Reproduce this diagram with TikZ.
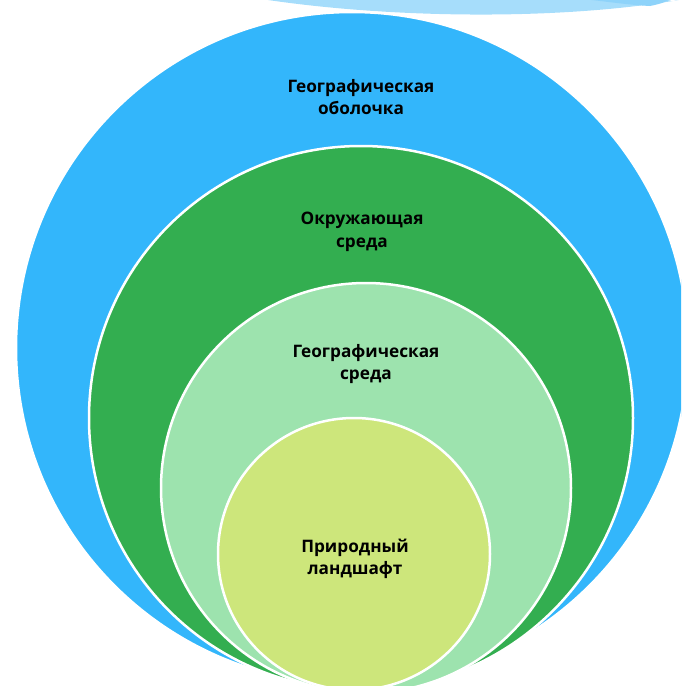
\documentclass[tikz,border=0pt]{standalone}
\usepackage{fontspec}
\setmainfont{Open Sans}
\definecolor{skyb}{HTML}{33B6FB}
\definecolor{paleb}{HTML}{A6DDFB}
\definecolor{paleb2}{HTML}{8ED3FA}
\definecolor{grn}{HTML}{33AE50}
\definecolor{lgrn}{HTML}{9DE3AE}
\definecolor{ygrn}{HTML}{CDE67B}
\tikzset{
  ring/.style={circle, draw=white, line width=2.5pt, inner sep=0pt},
  lbl/.style={font=\bfseries\fontsize{17.2}{22.5}\selectfont, align=center, text=black}
}
\begin{document}
\begin{tikzpicture}[x=1pt,y=-1pt]
\useasboundingbox (0,0) rectangle (681,686);
\clip (0,0) rectangle (681,686);
\fill[paleb] (255,-2) .. controls (380,18) and (560,22) .. (690,-2) -- cycle;
\fill[paleb2] (583,-1) .. controls (610,2) and (630,5) .. (650,6) .. controls (660,4) and (666,2) .. (670,-1) -- cycle;
\draw[white, line width=1.5pt] (668,-1) -- (690,6);
\node[ring, fill=skyb, minimum size=672] (outer) at (352,348) {};
\node[ring, fill=grn, minimum size=544] (env) at (361,418) {};
\node[ring, fill=lgrn, minimum size=410] (geo) at (366,488) {};
\node[ring, fill=ygrn, minimum size=272] (land) at (354,554) {};
\node[lbl] (t1) at (361,97) {Географическая\\оболочка};
\node[lbl] (t2) at (362,232) {Окружающая\\среда};
\node[lbl] (t3) at (366,364) {Географическая\\среда};
\node[lbl] (t4) at (355,559) {Природный\\ландшафт};
\end{tikzpicture}
\end{document}
